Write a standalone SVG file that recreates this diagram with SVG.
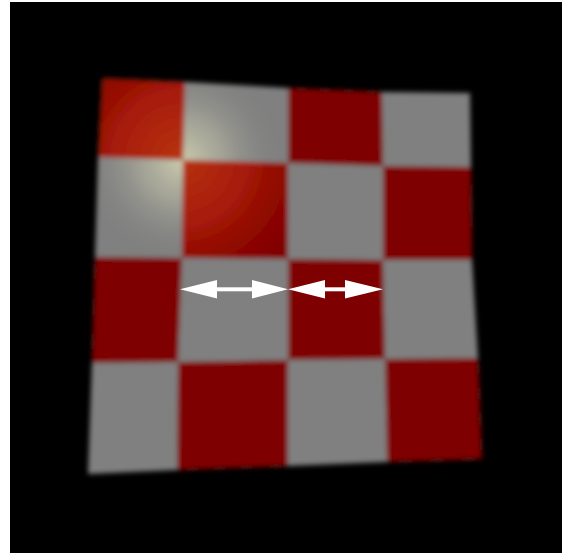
<svg xmlns="http://www.w3.org/2000/svg" width="565" height="555" viewBox="0 0 565 555">
  <defs>
    <style>
      .r { fill: #7f0000; }
      .g { fill: #808080; }
      .arrow { fill: #ffffff; }
      .glow { mix-blend-mode: screen; }
    </style>
    <filter id="soft" x="-10%" y="-10%" width="120%" height="120%">
      <feGaussianBlur stdDeviation="2.6"/>
    </filter>
    <radialGradient id="glowRed" gradientUnits="userSpaceOnUse" cx="180" cy="158" r="150">
      <stop offset="0" stop-color="#703412" stop-opacity="1"/>
      <stop offset="0.45" stop-color="#5a200a" stop-opacity="0.85"/>
      <stop offset="0.8" stop-color="#2a0800" stop-opacity="0.4"/>
      <stop offset="1" stop-color="#000000" stop-opacity="0"/>
    </radialGradient>
    <radialGradient id="glowGray" gradientUnits="userSpaceOnUse" cx="182" cy="160" r="105">
      <stop offset="0" stop-color="#96965a" stop-opacity="1"/>
      <stop offset="0.4" stop-color="#606040" stop-opacity="0.7"/>
      <stop offset="0.75" stop-color="#202018" stop-opacity="0.3"/>
      <stop offset="1" stop-color="#000000" stop-opacity="0"/>
    </radialGradient>
    <clipPath id="clipRed">
      <polygon points="102,78 185,82 183,160 98,157"/>
      <polygon points="183,160 288,163 288,259 182,258"/>
    </clipPath>
    <clipPath id="clipGray">
      <polygon points="185,82 288,88 288,163 183,160"/>
      <polygon points="98,157 183,160 182,258 95,257"/>
    </clipPath>
  </defs>
  <rect x="0" y="0" width="565" height="555" fill="#ffffff"/>
  <rect x="10" y="2" width="552" height="551" fill="#000000"/>
  <g id="board" filter="url(#soft)">
    <polygon id="base" class="g" points="102,78 185,82 288,88 382,92 470,93 471,167 472,260 478,358 482,459 387,462 288,466 177,470 88,474 92,363 95,257 98,157"/>
    <g id="redcells">
      <polygon class="r" points="102,78 185,82 183,160 98,157"/>
      <polygon class="r" points="288,88 382,92 383,166 288,163"/>
      <polygon class="r" points="183,160 288,163 288,259 182,258"/>
      <polygon class="r" points="383,166 471,167 472,260 383,260"/>
      <polygon class="r" points="95,257 182,258 178,362 92,363"/>
      <polygon class="r" points="288,259 383,260 385,359 288,360"/>
      <polygon class="r" points="178,362 288,360 288,466 177,470"/>
      <polygon class="r" points="385,359 478,358 482,459 387,462"/>
    </g>
    <g id="highlight">
      <rect class="glow" x="90" y="70" width="210" height="200" fill="url(#glowRed)" clip-path="url(#clipRed)"/>
      <rect class="glow" x="90" y="70" width="210" height="200" fill="url(#glowGray)" clip-path="url(#clipGray)"/>
    </g>
  </g>
  <g id="connectors">
    <g id="arrow1">
      <rect class="arrow" x="214" y="287.3" width="40" height="4"/>
      <polygon class="arrow" points="180,289.3 217,280 217,298.5"/>
      <polygon class="arrow" points="288,289.3 252,280 252,298.5"/>
    </g>
    <g id="arrow2">
      <rect class="arrow" x="322" y="287.3" width="26" height="4"/>
      <polygon class="arrow" points="288,289.3 325,280 325,298.5"/>
      <polygon class="arrow" points="383,289.3 345,280 345,298.5"/>
    </g>
  </g>
</svg>
